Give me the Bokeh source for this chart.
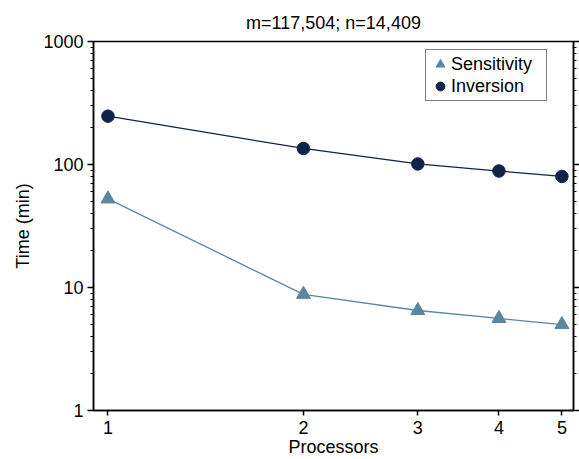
from bokeh.plotting import figure
from bokeh.models import (Range1d, FixedTicker, NumeralTickFormatter, LogAxis,
                          Legend, LegendItem)
from bokeh.embed import file_html
from bokeh.resources import INLINE

processors = [1, 2, 3, 4, 5]
sensitivity = [52.5, 8.8, 6.5, 5.6, 5.0]
inversion = [247, 135, 101, 88.5, 80]
y_major = [1, 10, 100, 1000]
y_minor = [m * d for d in [1, 10, 100] for m in range(2, 10)]

FONT = "Liberation Sans"
FS = "18px"
SENS_C = "#5B86A2"
INV_C = "#0F2446"

p = figure(width=579, height=459, x_axis_type="log", y_axis_type="log",
           x_range=Range1d(0.95, 5.21), y_range=Range1d(1, 1000),
           output_backend="svg", toolbar_location=None,
           min_border_left=93, min_border_right=6, min_border_top=41,
           min_border_bottom=49)

p.title.text = "m=117,504; n=14,409"
p.title.align = "center"
p.title.text_font = FONT
p.title.text_font_size = FS
p.title.text_font_style = "normal"
p.title.text_color = "black"
p.title.standoff = 17

p.xgrid.visible = False
p.ygrid.visible = False
p.outline_line_color = "black"
p.outline_line_width = 1.5
p.background_fill_color = "white"
p.border_fill_color = "white"

xa = p.xaxis[0]
xa.ticker = FixedTicker(ticks=processors, minor_ticks=[])
xa.formatter = NumeralTickFormatter(format="0")
xa.axis_label = "Processors"
xa.axis_label_text_font = FONT
xa.axis_label_text_font_size = FS
xa.axis_label_text_font_style = "normal"
xa.axis_label_text_color = "black"
xa.axis_label_standoff = 0
xa.major_label_text_font = FONT
xa.major_label_text_font_size = FS
xa.major_label_text_color = "black"
xa.major_label_standoff = 5
xa.major_tick_in = 0
xa.major_tick_out = 5
xa.axis_line_width = 1.5
xa.major_tick_line_width = 1.5

ya = p.yaxis[0]
ya.ticker = FixedTicker(ticks=y_major, minor_ticks=y_minor)
ya.formatter = NumeralTickFormatter(format="0")
ya.axis_label = "Time (min)"
ya.axis_label_text_font = FONT
ya.axis_label_text_font_size = FS
ya.axis_label_text_font_style = "normal"
ya.axis_label_text_color = "black"
ya.axis_label_standoff = 7
ya.major_label_text_font = FONT
ya.major_label_text_font_size = FS
ya.major_label_text_color = "black"
ya.major_label_standoff = 4
ya.major_tick_in = 0
ya.major_tick_out = 6
ya.minor_tick_in = 0
ya.minor_tick_out = 3
ya.axis_line_width = 1.5
ya.major_tick_line_width = 1.5
ya.minor_tick_line_width = 1.2

ra = LogAxis(ticker=FixedTicker(ticks=y_major, minor_ticks=y_minor),
             major_label_overrides={t: "" for t in y_major},
             major_label_standoff=0,
             major_tick_in=0, major_tick_out=6, minor_tick_in=0, minor_tick_out=3,
             axis_line_width=1.5, major_tick_line_width=1.5, minor_tick_line_width=1.2)
p.add_layout(ra, "right")

p.line(processors, sensitivity, line_color=SENS_C, line_width=1.3)
p.line(processors, inversion, line_color=INV_C, line_width=1.3)
r_s = p.scatter(processors, sensitivity, marker="triangle", size=14,
                fill_color=SENS_C, line_color=SENS_C)
r_i = p.scatter(processors, inversion, marker="circle", size=12.5,
                fill_color=INV_C, line_color=INV_C)

legend = Legend(items=[LegendItem(label="Sensitivity", renderers=[r_s]),
                       LegendItem(label="Inversion", renderers=[r_i])],
                location=(332, 309), padding=3, spacing=0, margin=0,
                glyph_width=22, glyph_height=22, label_height=22, label_width=92,
                label_standoff=0, label_text_font=FONT, label_text_font_size=FS,
                label_text_color="black",
                border_line_color="black", border_line_width=1.2,
                background_fill_color="white", background_fill_alpha=1)
p.add_layout(legend, "center")

open("out.html", "w").write(file_html(p, INLINE))
